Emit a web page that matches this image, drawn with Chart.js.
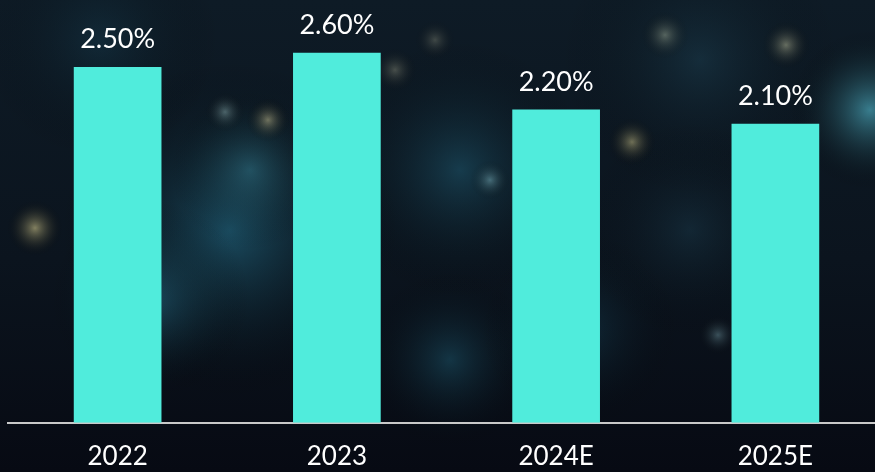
<!DOCTYPE html>
<html>
<head>
<meta charset="utf-8">
<script src="https://cdn.jsdelivr.net/npm/chart.js@4.4.0/dist/chart.umd.min.js"></script>
<style>
  html, body { margin: 0; padding: 0; background: #080c16; overflow: hidden; }
  #wrap { width: 885px; height: 472px; position: relative; }
</style>
</head>
<body>
<div id="wrap"><canvas id="rateChart"></canvas></div>
<script>
const years = ['2022', '2023', '2024E', '2025E'];
const rates = [2.5, 2.6, 2.2, 2.1];
const rateLabels = ['2.50%', '2.60%', '2.20%', '2.10%'];

// dark, blurred "network" backdrop
const backdrop = {
    id: 'backdrop',
    beforeDraw(chart) {
        const c = chart.ctx, w = chart.width, h = chart.height;
        c.save();
        const g = c.createLinearGradient(0, 0, 0, h);
        g.addColorStop(0, '#0e1b26');
        g.addColorStop(0.55, '#0b141e');
        g.addColorStop(1, '#070a13');
        c.fillStyle = g;
        c.fillRect(0, 0, w, h);
        const glows = [
            [230, 230, 170, 'rgba(40,125,155,0.55)'],
            [150, 300, 100, 'rgba(45,130,160,0.45)'],
            [250, 170, 80, 'rgba(60,140,160,0.4)'],
            [460, 170, 130, 'rgba(35,105,130,0.45)'],
            [450, 360, 90, 'rgba(35,110,135,0.4)'],
            [870, 110, 80, 'rgba(80,180,200,0.65)'],
            [580, 330, 100, 'rgba(30,90,115,0.35)'],
            [700, 60, 140, 'rgba(35,80,100,0.35)'],
            [100, 40, 120, 'rgba(25,70,90,0.35)'],
            [690, 230, 110, 'rgba(35,80,100,0.3)']
        ];
        const dots = [
            [35, 228, 28, 'rgba(210,200,140,0.6)'],
            [632, 142, 24, 'rgba(210,200,140,0.5)'],
            [268, 120, 22, 'rgba(210,200,150,0.5)'],
            [786, 45, 24, 'rgba(210,210,170,0.45)'],
            [665, 35, 24, 'rgba(190,200,170,0.4)'],
            [225, 112, 20, 'rgba(170,210,210,0.4)'],
            [490, 180, 20, 'rgba(150,210,220,0.4)'],
            [718, 335, 20, 'rgba(150,200,210,0.35)'],
            [395, 70, 22, 'rgba(180,180,150,0.35)'],
            [435, 40, 20, 'rgba(180,180,150,0.3)']
        ];
        glows.concat(dots).forEach(([x, y, r, col]) => {
            const rg = c.createRadialGradient(x, y, 0, x, y, r);
            rg.addColorStop(0, col);
            rg.addColorStop(1, 'rgba(0,0,0,0)');
            c.fillStyle = rg;
            c.fillRect(x - r, y - r, r * 2, r * 2);
        });
        c.restore();
    }
};

const valueLabels = {
    id: 'valueLabels',
    afterDatasetsDraw(chart) {
        const c = chart.ctx;
        const meta = chart.getDatasetMeta(0);
        c.save();
        c.fillStyle = '#ffffff';
        c.font = '27px Lato';
        c.textAlign = 'center';
        c.textBaseline = 'alphabetic';
        meta.data.forEach((bar, i) => {
            c.fillText(rateLabels[i], bar.x, bar.y - 19);
        });
        c.restore();
    }
};

const ctx = document.getElementById('rateChart').getContext('2d');

const rateChart = new Chart(ctx, {
    type: 'bar',
    data: {
        labels: years,
        datasets: [{
            data: rates,
            backgroundColor: '#50ecdc',
            borderWidth: 0,
            categoryPercentage: 1,
            barPercentage: 0.4
        }]
    },
    options: {
        responsive: true,
        maintainAspectRatio: false,
        animation: false,
        layout: { padding: { left: 8, right: 0, top: 0, bottom: -18 } },
        plugins: {
            legend: { display: false },
            tooltip: { enabled: false }
        },
        scales: {
            x: {
                grid: { display: false, drawTicks: false },
                border: { display: true, color: '#c9c9c9', width: 2 },
                ticks: {
                    color: '#ffffff',
                    padding: 18,
                    font: { family: 'Lato', size: 26, lineHeight: 1.2 }
                }
            },
            y: {
                display: false,
                min: 0,
                max: 2.97
            }
        }
    },
    plugins: [backdrop, valueLabels]
});
</script>
</body>
</html>
